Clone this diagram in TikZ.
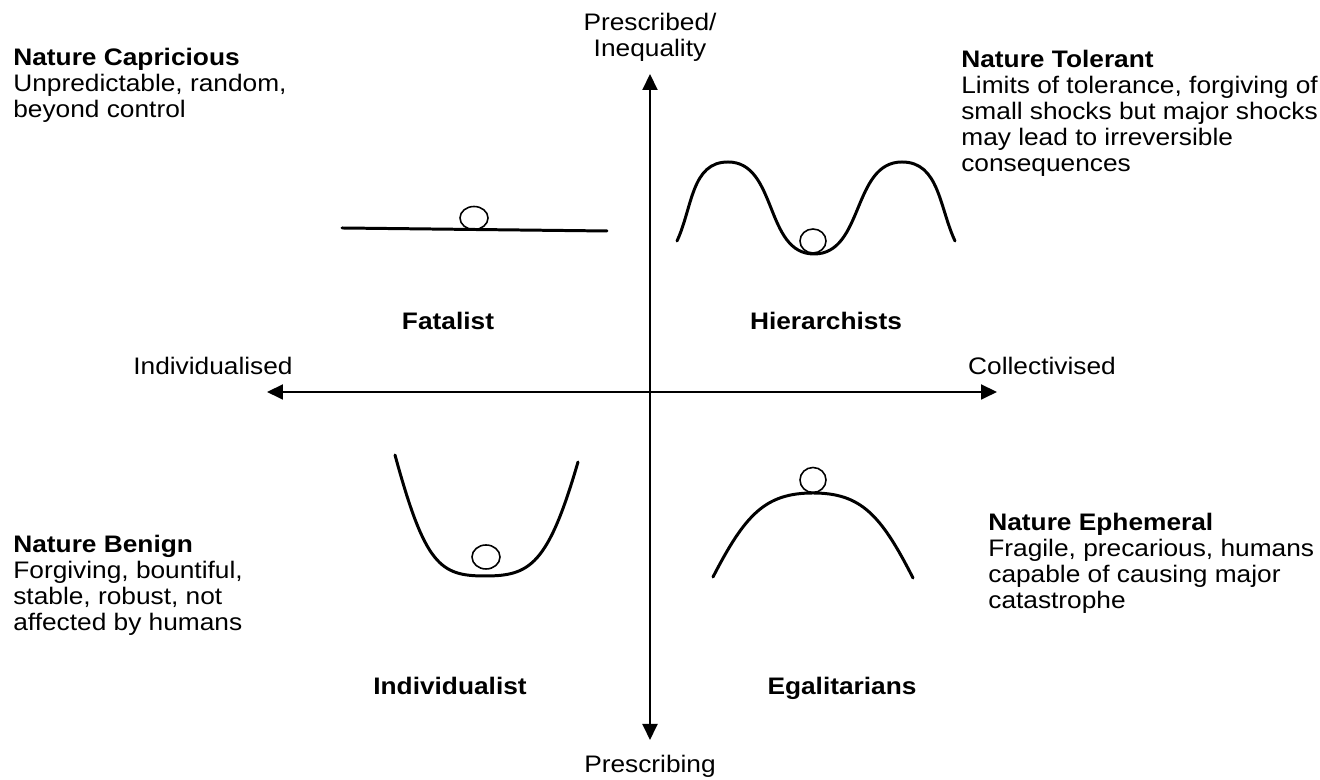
\documentclass[tikz,border=0pt]{standalone}
\usepackage{fontspec}
\setmainfont{Liberation Sans}[FakeStretch=1.1]
\usepackage{tikz}
\usetikzlibrary{positioning, arrows.meta}

\begin{document}
\begin{tikzpicture}[x=0.02cm, y=0.02cm,
    lbl/.style={inner sep=0pt, font=\fontsize{13.6}{14.8}\selectfont},
    blk/.style={lbl, align=left, anchor=north west},
    grp/.style={lbl, font=\fontsize{13.6}{14.8}\selectfont\bfseries, anchor=base},
    axis/.style={line width=1.1pt,
      {Triangle[length=3.2mm, width=3mm]}-{Triangle[length=3.2mm, width=3mm]}},
    curve/.style={line width=1.7pt, line cap=round},
    ball/.style={line width=0.9pt}]
  \useasboundingbox (0,0) rectangle (1320,780);

  % axes
  \coordinate (ax_top) at (650,706);
  \coordinate (ax_bot) at (650,40);
  \coordinate (ax_lft) at (267,388);
  \coordinate (ax_rgt) at (997,388);
  \draw[axis] (ax_bot) -- (ax_top);
  \draw[axis] (ax_lft) -- (ax_rgt);

  \node[lbl, align=center, anchor=north] (lbl_top) at (650,767) {Prescribed/\\Inequality};
  \node[lbl, anchor=base] (lbl_bot) at (650,7) {Prescribing};
  \node[lbl, anchor=base] (lbl_lft) at (213,405) {Individualised};
  \node[lbl, anchor=base] (lbl_rgt) at (1042,405) {Collectivised};

  % the four groups
  \node[grp] (grp_fat) at (448,450) {Fatalist};
  \node[grp] (grp_hie) at (826,450) {Hierarchists};
  \node[grp] (grp_ind) at (450,85) {Individualist};
  \node[grp] (grp_ega) at (842,85) {Egalitarians};

  % myths of nature
  \node[blk] (cap_box) at (13,732)
    {\textbf{Nature Capricious}\\
     Unpredictable, random,\\
     beyond control};
  \node[blk] (tol_box) at (961,730)
    {\textbf{Nature Tolerant}\\
     Limits of tolerance, forgiving of\\
     small shocks but major shocks\\
     may lead to irreversible\\
     consequences};
  \node[blk] (ben_box) at (13,245)
    {\textbf{Nature Benign}\\
     Forgiving, bountiful,\\
     stable, robust, not\\
     affected by humans};
  \node[blk] (eph_box) at (988,267)
    {\textbf{Nature Ephemeral}\\
     Fragile, precarious, humans\\
     capable of causing major\\
     catastrophe};

  % landscapes and balls
  \draw[curve] (342,552) -- (607,549);
  \draw[ball] (474,562) ellipse[x radius=14, y radius=11.5];

  \draw[curve] (677,539) to[out=65,in=180] (728,618) to[out=0,in=180] (814,526)
    to[out=0,in=180] (902,618) to[out=0,in=115] (955,539);
  \draw[ball] (813,539) ellipse[x radius=13, y radius=12];

  \draw[curve] (395,325) .. controls (425,215) and (440,204) .. (485,204)
    .. controls (530,204) and (548,215) .. (578,318);
  \draw[ball] (486,223) ellipse[x radius=14, y radius=12];

  \draw[curve] (713,203) .. controls (745,265) and (765,287) .. (813,287)
    .. controls (861,287) and (881,265) .. (913,202);
  \draw[ball] (813,300) ellipse[x radius=13, y radius=12.5];
\end{tikzpicture}
\end{document}
